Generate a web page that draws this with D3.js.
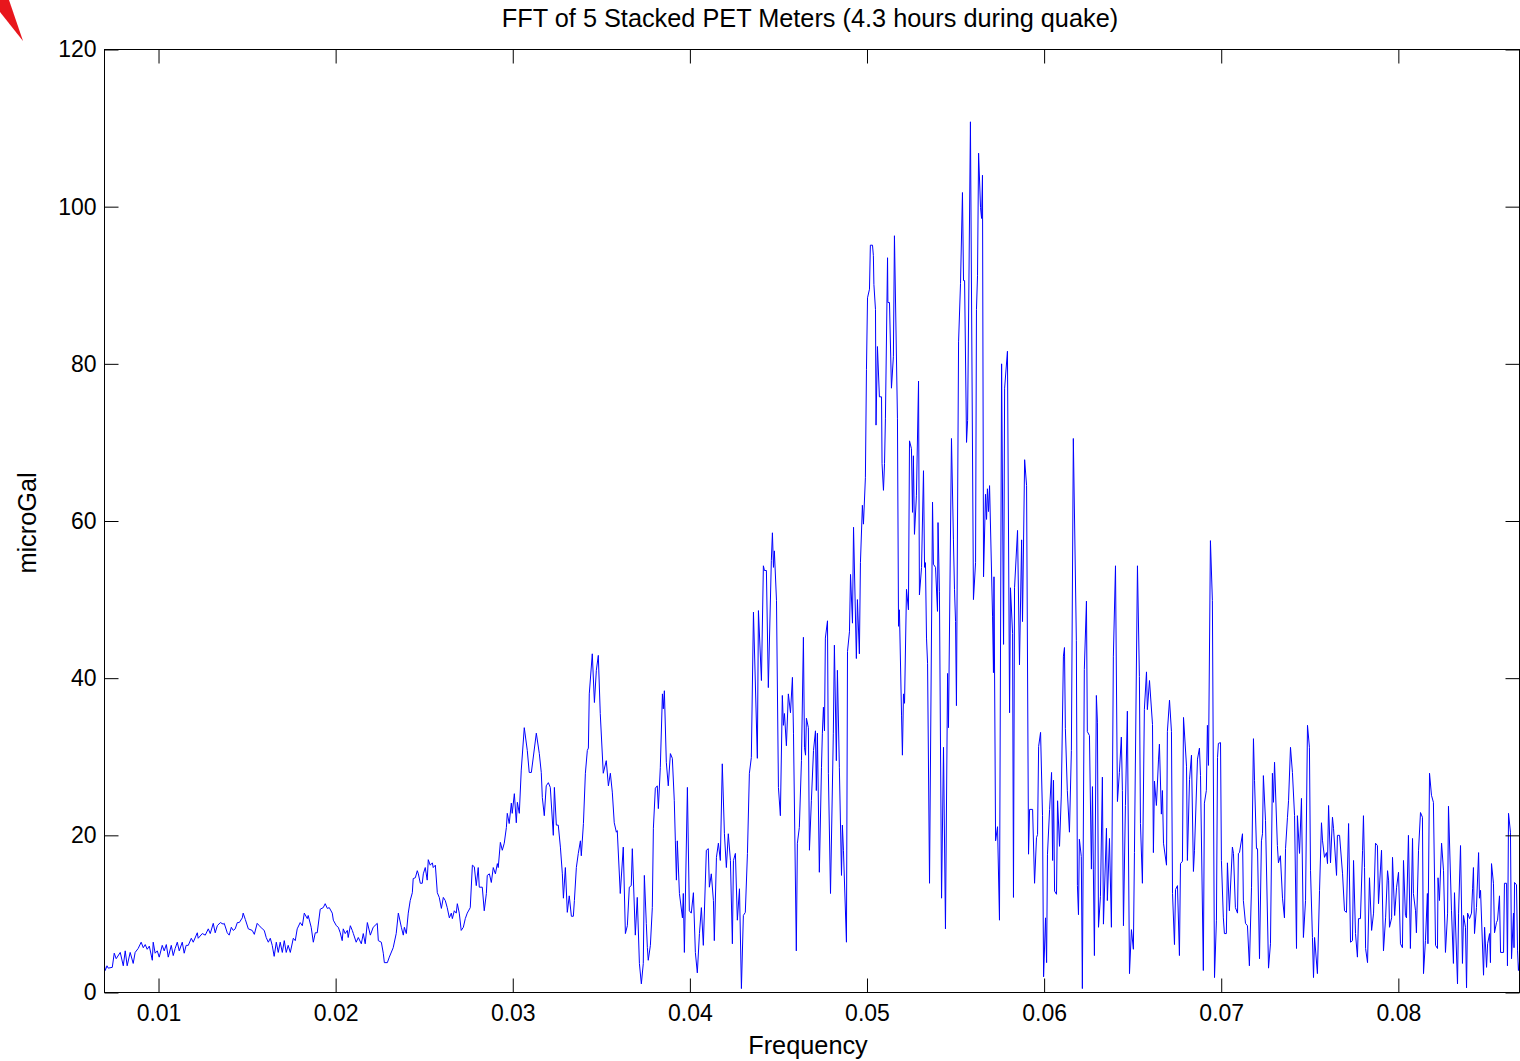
<!DOCTYPE html>
<html>
<head>
<meta charset="utf-8">
<script src="https://cdn.jsdelivr.net/npm/d3@7"></script>
<style>
  html, body { margin: 0; padding: 0; background: #fff; }
  svg { display: block; }
  text { font-family: "Liberation Sans", Arial, Helvetica, sans-serif; fill: #000; }
</style>
</head>
<body>
<svg id="chart" width="1520" height="1061"></svg>
<script>
// Spectrum of the stacked meters: frequency (Hz) and amplitude (microGal)
const frequency = [
0.00693,0.00699,0.00709,0.00716,0.00739,0.00750,0.00761,0.00784,0.00801,0.00812,
0.00823,0.00840,0.00857,0.00868,0.00885,0.00902,0.00914,0.00925,0.00936,0.00948,
0.00965,0.00970,0.00981,0.00993,0.01004,0.01021,0.01032,0.01044,0.01055,0.01072,
0.01083,0.01094,0.01106,0.01117,0.01134,0.01145,0.01156,0.01168,0.01185,0.01196,
0.01219,0.01224,0.01247,0.01264,0.01281,0.01292,0.01309,0.01320,0.01332,0.01349,
0.01365,0.01371,0.01388,0.01399,0.01411,0.01422,0.01433,0.01445,0.01456,0.01473,
0.01478,0.01490,0.01507,0.01529,0.01541,0.01557,0.01569,0.01586,0.01597,0.01608,
0.01620,0.01631,0.01642,0.01653,0.01665,0.01676,0.01687,0.01699,0.01710,0.01721,
0.01732,0.01744,0.01761,0.01772,0.01783,0.01800,0.01812,0.01823,0.01840,0.01845,
0.01862,0.01874,0.01885,0.01896,0.01913,0.01930,0.01941,0.01953,0.01964,0.01981,
0.01987,0.02004,0.02015,0.02026,0.02037,0.02043,0.02054,0.02066,0.02071,0.02083,
0.02094,0.02100,0.02116,0.02128,0.02145,0.02156,0.02167,0.02179,0.02196,0.02212,
0.02235,0.02241,0.02258,0.02269,0.02275,0.02292,0.02303,0.02325,0.02342,0.02354,
0.02371,0.02382,0.02388,0.02399,0.02410,0.02421,0.02433,0.02438,0.02450,0.02461,
0.02467,0.02478,0.02489,0.02495,0.02506,0.02517,0.02523,0.02534,0.02546,0.02551,
0.02563,0.02574,0.02585,0.02597,0.02608,0.02619,0.02630,0.02642,0.02653,0.02659,
0.02670,0.02681,0.02687,0.02698,0.02709,0.02721,0.02732,0.02743,0.02760,0.02772,
0.02783,0.02794,0.02805,0.02811,0.02828,0.02839,0.02851,0.02856,0.02868,0.02879,
0.02890,0.02902,0.02913,0.02918,0.02930,0.02941,0.02952,0.02964,0.02969,0.02980,
0.02992,0.02997,0.03009,0.03020,0.03026,0.03037,0.03048,0.03065,0.03082,0.03093,
0.03105,0.03133,0.03150,0.03161,0.03167,0.03178,0.03189,0.03201,0.03212,0.03229,
0.03235,0.03246,0.03257,0.03269,0.03280,0.03286,0.03297,0.03308,0.03319,0.03331,
0.03342,0.03348,0.03359,0.03370,0.03382,0.03387,0.03399,0.03410,0.03421,0.03427,
0.03432,0.03449,0.03461,0.03472,0.03483,0.03494,0.03511,0.03528,0.03540,0.03551,
0.03562,0.03573,0.03585,0.03590,0.03607,0.03624,0.03636,0.03647,0.03658,0.03669,
0.03675,0.03692,0.03703,0.03715,0.03726,0.03737,0.03743,0.03754,0.03760,0.03765,
0.03777,0.03788,0.03794,0.03805,0.03816,0.03822,0.03833,0.03845,0.03850,0.03856,
0.03867,0.03878,0.03890,0.03901,0.03912,0.03918,0.03924,0.03929,0.03941,0.03958,
0.03963,0.03969,0.03986,0.03997,0.04008,0.04020,0.04031,0.04042,0.04054,0.04065,
0.04076,0.04093,0.04104,0.04110,0.04121,0.04133,0.04138,0.04150,0.04161,0.04172,
0.04183,0.04195,0.04206,0.04217,0.04229,0.04240,0.04246,0.04257,0.04268,0.04280,
0.04291,0.04302,0.04313,0.04325,0.04336,0.04347,0.04359,0.04381,0.04387,0.04404,
0.04415,0.04421,0.04432,0.04443,0.04460,0.04466,0.04472,0.04477,0.04489,0.04500,
0.04511,0.04522,0.04528,0.04534,0.04545,0.04556,0.04568,0.04579,0.04585,0.04601,
0.04607,0.04618,0.04630,0.04641,0.04647,0.04653,0.04658,0.04669,0.04675,0.04686,
0.04698,0.04709,0.04714,0.04720,0.04731,0.04743,0.04748,0.04754,0.04760,0.04765,
0.04777,0.04782,0.04794,0.04810,0.04816,0.04827,0.04833,0.04844,0.04856,0.04861,
0.04867,0.04884,0.04890,0.04901,0.04907,0.04918,0.04924,0.04940,0.04946,0.04957,
0.04963,0.04974,0.04980,0.04991,0.04997,0.05003,0.05014,0.05019,0.05031,0.05036,
0.05039,0.05048,0.05051,0.05059,0.05070,0.05082,0.05085,0.05093,0.05099,0.05104,
0.05116,0.05118,0.05127,0.05138,0.05149,0.05155,0.05172,0.05178,0.05183,0.05195,
0.05200,0.05206,0.05212,0.05223,0.05234,0.05240,0.05251,0.05257,0.05262,0.05268,
0.05279,0.05291,0.05296,0.05308,0.05319,0.05325,0.05330,0.05336,0.05342,0.05353,
0.05370,0.05375,0.05387,0.05398,0.05401,0.05409,0.05421,0.05432,0.05443,0.05455,
0.05460,0.05477,0.05488,0.05494,0.05500,0.05505,0.05517,0.05528,0.05539,0.05545,
0.05551,0.05562,0.05568,0.05584,0.05601,0.05613,0.05618,0.05624,0.05630,0.05641,
0.05647,0.05652,0.05658,0.05669,0.05675,0.05680,0.05686,0.05692,0.05709,0.05714,
0.05717,0.05726,0.05737,0.05748,0.05760,0.05771,0.05777,0.05793,0.05805,0.05810,
0.05822,0.05827,0.05833,0.05850,0.05861,0.05873,0.05878,0.05890,0.05901,0.05912,
0.05918,0.05935,0.05946,0.05957,0.05963,0.05969,0.05980,0.05991,0.05997,0.06008,
0.06014,0.06019,0.06031,0.06042,0.06048,0.06053,0.06059,0.06070,0.06076,0.06087,
0.06097,0.06109,0.06115,0.06120,0.06131,0.06143,0.06154,0.06165,0.06182,0.06188,
0.06194,0.06199,0.06210,0.06216,0.06227,0.06239,0.06244,0.06256,0.06267,0.06273,
0.06278,0.06284,0.06295,0.06301,0.06307,0.06318,0.06329,0.06335,0.06352,0.06357,
0.06369,0.06380,0.06391,0.06403,0.06414,0.06425,0.06436,0.06442,0.06448,0.06459,
0.06470,0.06482,0.06493,0.06504,0.06510,0.06527,0.06538,0.06544,0.06555,0.06566,
0.06578,0.06583,0.06595,0.06612,0.06617,0.06623,0.06634,0.06646,0.06651,0.06662,
0.06668,0.06674,0.06691,0.06696,0.06708,0.06719,0.06725,0.06736,0.06742,0.06753,
0.06764,0.06770,0.06781,0.06787,0.06804,0.06809,0.06821,0.06832,0.06843,0.06849,
0.06866,0.06877,0.06883,0.06899,0.06905,0.06916,0.06922,0.06928,0.06939,0.06950,
0.06962,0.06973,0.06979,0.06984,0.06996,0.07001,0.07012,0.07018,0.07029,0.07035,
0.07046,0.07063,0.07069,0.07080,0.07092,0.07097,0.07103,0.07120,0.07125,0.07137,
0.07148,0.07159,0.07171,0.07182,0.07188,0.07199,0.07205,0.07216,0.07227,0.07233,
0.07238,0.07250,0.07267,0.07278,0.07289,0.07295,0.07301,0.07317,0.07323,0.07334,
0.07346,0.07357,0.07363,0.07374,0.07380,0.07391,0.07402,0.07414,0.07425,0.07430,
0.07442,0.07453,0.07464,0.07476,0.07487,0.07498,0.07504,0.07515,0.07521,0.07527,
0.07543,0.07555,0.07566,0.07572,0.07583,0.07594,0.07600,0.07606,0.07617,0.07628,
0.07634,0.07651,0.07656,0.07668,0.07685,0.07696,0.07707,0.07719,0.07730,0.07741,
0.07747,0.07758,0.07769,0.07775,0.07786,0.07798,0.07803,0.07809,0.07815,0.07826,
0.07837,0.07849,0.07860,0.07871,0.07882,0.07888,0.07905,0.07916,0.07928,0.07939,
0.07945,0.07950,0.07962,0.07967,0.07979,0.07990,0.08001,0.08012,0.08023,0.08029,
0.08040,0.08046,0.08057,0.08068,0.08080,0.08085,0.08097,0.08102,0.08114,0.08125,
0.08136,0.08142,0.08153,0.08164,0.08167,0.08176,0.08187,0.08198,0.08210,0.08221,
0.08224,0.08232,0.08244,0.08255,0.08266,0.08278,0.08283,0.08300,0.08311,0.08317,
0.08334,0.08340,0.08351,0.08362,0.08368,0.08379,0.08385,0.08391,0.08402,0.08413,
0.08419,0.08424,0.08430,0.08441,0.08453,0.08458,0.08464,0.08481,0.08487,0.08498,
0.08504,0.08515,0.08520,0.08526,0.08537,0.08543,0.08554,0.08560,0.08571,0.08577,
0.08594,0.08599,0.08611,0.08616,0.08622,0.08633,0.08639,0.08650,0.08653,0.08656,
0.08667,0.08673,0.08678,0.08690
];

const microGal = [
3.7,2.8,3.4,3.1,3.2,5.0,4.3,5.1,3.4,5.3,
3.4,5.1,3.7,5.1,5.6,6.4,5.7,6.1,5.5,5.9,
4.1,6.4,5.0,5.3,4.5,6.0,5.3,6.1,4.5,6.0,
4.7,5.6,6.4,5.3,6.4,5.0,6.0,6.0,6.9,6.4,
7.6,6.9,7.5,7.3,8.1,7.5,8.8,7.6,8.5,8.9,
8.7,8.8,7.6,7.3,8.3,7.9,8.1,8.9,8.9,9.5,
10.1,9.3,8.1,7.9,7.4,8.8,8.5,8.1,7.9,7.0,
6.4,6.9,6.0,4.6,6.4,5.1,6.4,5.1,6.6,5.1,
6.0,5.1,6.9,6.6,8.1,8.9,8.5,10.1,9.4,9.8,
8.3,6.4,7.6,7.6,10.6,10.8,11.3,10.7,10.8,10.1,
9.2,8.5,8.3,7.6,6.6,8.1,7.5,7.9,7.0,8.5,
7.9,7.5,6.4,7.0,6.2,7.5,6.2,8.9,7.3,8.3,
8.8,6.6,6.4,5.0,3.8,3.8,4.5,5.7,7.5,10.1,
8.3,7.3,8.3,7.5,10.1,11.7,12.7,14.5,14.6,15.5,
15.1,13.9,13.9,15.1,15.9,14.3,16.9,16.2,16.5,15.9,
16.2,12.7,12.1,10.7,12.1,11.7,10.8,9.5,10.1,9.4,
10.4,10.1,11.3,10.1,7.9,8.3,9.4,10.1,10.8,16.2,
16.0,13.6,15.9,13.4,13.4,10.4,12.6,14.9,15.1,14.0,
15.9,15.1,16.4,15.9,19.1,18.1,19.0,21.0,22.8,21.5,
24.1,22.8,25.3,21.6,24.2,22.8,28.3,33.7,30.8,28.0,
28.0,33.0,30.4,28.0,24.8,22.5,26.3,26.7,26.1,20.0,
26.1,21.3,21.3,18.5,15.1,12.0,15.9,10.2,12.3,9.7,
9.7,11.7,15.9,17.7,19.3,17.4,21.5,27.9,30.8,31.1,
38.0,43.1,36.9,41.0,42.9,35.5,27.9,29.5,26.3,27.9,
25.5,21.6,20.4,20.6,12.6,18.5,7.5,8.5,13.4,13.6,
18.3,7.3,12.1,3.7,1.1,3.7,14.9,8.8,5.7,4.1,
6.0,10.8,20.9,26.0,26.3,23.4,28.6,38.0,36.1,38.4,
29.3,26.3,30.4,29.8,24.4,19.3,14.3,19.3,12.6,9.5,
12.6,5.1,26.1,10.4,10.1,12.7,5.1,2.5,7.5,10.8,
6.0,18.1,18.3,13.4,15.1,11.7,6.6,17.2,19.0,16.8,
29.1,20.2,15.9,20.2,16.8,6.2,16.8,17.7,9.2,13.2,
0.5,9.8,10.2,17.7,27.9,29.9,48.4,29.8,48.6,39.7,
54.3,53.7,53.7,38.8,55.0,58.5,54.1,56.2,49.9,26.1,
22.5,37.8,34.0,35.5,31.4,38.0,35.6,40.1,33.0,5.3,
19.0,21.0,29.5,45.2,31.2,30.2,34.9,33.7,18.1,24.4,
30.8,33.3,25.7,33.0,15.3,28.6,33.0,36.3,33.3,45.1,
47.3,27.9,12.6,33.0,44.2,29.5,41.0,28.6,14.9,21.3,
18.1,6.4,43.4,45.9,53.2,47.0,59.2,42.5,50.0,43.1,
54.7,62.0,59.6,65.5,79.3,88.4,89.5,95.1,95.1,93.8,
90.1,86.9,72.2,82.2,75.8,75.8,67.3,63.9,67.3,73.0,
93.5,87.8,87.8,76.9,80.9,96.3,73.0,46.6,48.7,35.3,
30.2,38.0,36.8,51.3,48.7,70.2,69.2,61.1,68.3,58.3,
63.2,77.8,50.6,54.1,66.4,54.1,54.7,45.1,41.9,13.9,
62.4,54.5,54.1,48.5,59.8,51.0,12.0,31.2,8.1,40.6,
33.7,70.5,57.6,51.3,47.2,36.5,82.8,90.2,101.8,90.6,
90.6,70.0,72.8,110.8,50.0,54.7,86.9,91.2,106.8,99.9,
98.5,104.0,52.9,63.4,60.2,64.1,61.2,64.5,47.8,40.7,
52.9,19.3,21.1,9.2,80.0,44.3,76.9,81.6,35.6,51.5,
45.7,12.1,51.5,58.8,41.7,57.6,47.2,67.8,64.5,17.6,
23.3,23.3,13.9,19.7,20.1,31.3,33.1,22.5,2.0,9.5,
3.8,17.6,23.3,28.0,16.8,27.0,12.9,12.5,24.4,18.6,
25.0,42.8,43.9,33.6,25.7,20.4,30.8,70.5,44.8,13.6,
9.9,19.5,17.3,0.5,41.1,49.8,33.2,32.7,15.7,26.2,
15.7,4.7,37.8,34.4,8.3,12.2,27.4,8.7,20.9,11.7,
19.6,8.3,42.8,54.3,24.3,28.0,32.5,25.7,8.5,23.8,
35.8,2.4,8.0,5.5,17.8,54.3,40.2,21.5,13.9,36.0,
40.8,36.0,39.7,34.1,17.8,26.9,23.8,29.7,31.6,22.7,
25.7,19.0,16.2,33.2,37.2,33.2,12.6,6.1,13.1,13.6,
4.7,16.4,16.7,35.0,28.8,16.8,27.1,30.2,15.4,18.1,
29.7,31.1,27.6,2.8,24.1,25.7,34.0,28.9,57.5,49.9,
1.9,9.2,29.9,31.7,31.8,16.8,9.5,7.5,7.5,16.5,
10.4,18.5,17.7,10.8,10.1,17.7,17.8,20.2,11.7,8.8,
8.5,3.4,13.4,32.3,27.0,18.3,18.3,4.3,19.3,20.2,
27.6,21.9,3.1,6.2,27.9,24.2,29.3,18.7,16.5,17.4,
12.0,9.5,18.3,22.3,24.4,31.2,28.0,22.5,5.6,22.5,
17.7,24.7,7.0,11.7,34.0,31.2,15.5,7.0,1.9,7.0,
2.4,13.0,21.6,19.3,17.2,17.8,16.4,23.8,16.5,22.3,
20.9,14.9,20.0,20.0,15.1,10.4,10.2,21.5,6.4,6.6,
16.8,7.5,4.5,9.4,9.4,18.1,22.5,15.9,5.6,3.8,
14.6,7.9,10.1,19.0,18.7,11.3,18.1,5.3,9.5,15.5,
14.3,8.3,9.5,17.2,9.8,13.4,15.3,6.2,5.7,16.8,
9.8,9.5,20.0,5.6,19.6,12.6,10.4,7.6,18.1,22.9,
22.3,2.4,6.6,12.6,6.2,27.9,25.1,24.2,6.0,5.6,
14.6,11.7,19.0,15.5,5.1,10.1,23.7,10.4,3.7,12.7,
1.1,10.1,18.7,3.7,9.8,8.3,0.6,10.1,9.4,10.1,
13.2,15.9,7.5,10.8,17.8,12.0,13.0,2.2,8.3,3.2,
6.2,7.5,3.8,16.4,13.9,7.6,8.9,9.2,12.3,5.1,
5.1,13.9,13.9,3.4,22.8,20.4,4.3,10.1,5.7,14.0,
13.7,5.3,2.8,5.0
];

const xTicks = [0.01, 0.02, 0.03, 0.04, 0.05, 0.06, 0.07, 0.08];
const yTicks = [0, 20, 40, 60, 80, 100, 120];
const xDomain = [0.00695, 0.08684];
const yDomain = [0, 120];

const titleText = "FFT of 5 Stacked PET Meters (4.3 hours during quake)";
const xLabelText = "Frequency";
const yLabelText = "microGal";

// ---- layout ----
const svg = d3.select("#chart");
const plot = { left: 104.5, right: 1519.5, top: 49.5, bottom: 992.5 };
const tickLen = 14;
const tickFontSize = 23;
const labelFontSize = 25.3;

const x = d3.scaleLinear().domain(xDomain).range([plot.left, plot.right]);
const y = d3.scaleLinear().domain(yDomain).range([plot.bottom, plot.top]);

const points = frequency.map((f, i) => [f, microGal[i]]);

// red pointer glyph in the top-left corner
svg.append("defs").append("filter")
  .attr("id", "soft")
  .append("feGaussianBlur").attr("stdDeviation", 0.7);
svg.append("path")
  .attr("d", "M0,0 L9,0 L23,41 L0,12 Z")
  .attr("fill", "#e8141c")
  .attr("filter", "url(#soft)");

svg.append("clipPath").attr("id", "plotClip")
  .append("rect")
  .attr("x", plot.left).attr("y", plot.top)
  .attr("width", plot.right - plot.left).attr("height", plot.bottom - plot.top);

// spectrum line
svg.append("path")
  .datum(points)
  .attr("clip-path", "url(#plotClip)")
  .attr("fill", "none")
  .attr("stroke", "#0000ff")
  .attr("stroke-width", 1)
  .attr("stroke-linejoin", "miter")
  .attr("d", d3.line().x(d => x(d[0])).y(d => y(d[1])));

// axes: ticks drawn inward on all four sides
function styleAxis(g) {
  g.selectAll("path.domain").remove();
  g.selectAll(".tick line").attr("stroke", "#000").attr("stroke-width", 1);
  g.selectAll("text")
    .attr("font-size", tickFontSize)
    .attr("font-family", '"Liberation Sans", Arial, sans-serif')
    .attr("fill", "#000");
}

svg.append("g")
  .attr("transform", `translate(0,${plot.bottom})`)
  .call(d3.axisBottom(x).tickValues(xTicks).tickSizeInner(-tickLen).tickSizeOuter(0)
    .tickPadding(12).tickFormat(d3.format(".2f")))
  .call(styleAxis);

svg.append("g")
  .attr("transform", `translate(0,${plot.top})`)
  .call(d3.axisTop(x).tickValues(xTicks).tickSizeInner(-tickLen).tickSizeOuter(0).tickFormat(""))
  .call(styleAxis);

svg.append("g")
  .attr("transform", `translate(${plot.left},0)`)
  .call(d3.axisLeft(y).tickValues(yTicks).tickSizeInner(-tickLen).tickSizeOuter(0)
    .tickPadding(8).tickFormat(d3.format("d")))
  .call(styleAxis);

svg.append("g")
  .attr("transform", `translate(${plot.right},0)`)
  .call(d3.axisRight(y).tickValues(yTicks).tickSizeInner(-tickLen).tickSizeOuter(0).tickFormat(""))
  .call(styleAxis);

// axes box
svg.append("rect")
  .attr("x", plot.left).attr("y", plot.top)
  .attr("width", plot.right - plot.left).attr("height", plot.bottom - plot.top)
  .attr("fill", "none").attr("stroke", "#000").attr("stroke-width", 1);

// title and axis labels
svg.append("text")
  .attr("x", 810).attr("y", 27)
  .attr("text-anchor", "middle")
  .attr("font-size", labelFontSize)
  .text(titleText);

svg.append("text")
  .attr("x", 808).attr("y", 1054)
  .attr("text-anchor", "middle")
  .attr("font-size", labelFontSize)
  .text(xLabelText);

svg.append("text")
  .attr("transform", `translate(36,${(plot.top + plot.bottom) / 2 + 2}) rotate(-90)`)
  .attr("text-anchor", "middle")
  .attr("font-size", labelFontSize)
  .text(yLabelText);
</script>
</body>
</html>
